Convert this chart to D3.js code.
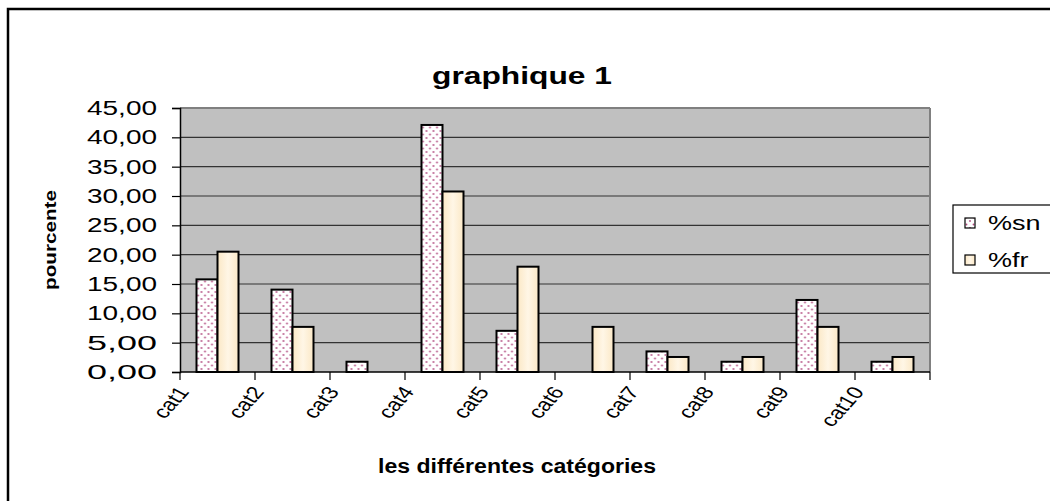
<!DOCTYPE html>
<html>
<head>
<meta charset="utf-8">
<script src="https://cdn.jsdelivr.net/npm/d3@7"></script>
<style>
  body { margin: 0; background: #fff; }
  svg { display: block; font-family: Arial, "Liberation Sans", sans-serif; }
</style>
</head>
<body>
<svg id="chart" width="1050" height="501"></svg>
<script>
// values (percentages)
const categories = ["cat1", "cat2", "cat3", "cat4", "cat5", "cat6", "cat7", "cat8", "cat9", "cat10"];
const seriesNames = ["%sn", "%fr"];
const sn = [15.79, 14.04, 1.75, 42.11, 7.02, 0, 3.51, 1.75, 12.28, 1.75];
const fr = [20.51, 7.69, 0, 30.77, 17.95, 7.69, 2.56, 2.56, 7.69, 2.56];
const yTicks = [0, 5, 10, 15, 20, 25, 30, 35, 40, 45];

const svg = d3.select("#chart");
const plot = { left: 180, right: 930, top: 108, bottom: 372 };

// the original text is drawn a bit wider than the font, stretch it
const widen = (sel, k) => sel.each(function() {
  const w = this.getComputedTextLength();
  d3.select(this).attr("textLength", w * k).attr("lengthAdjust", "spacingAndGlyphs");
});

// fills: dotted white for %sn, cream for %fr
const defs = svg.append("defs");
const pat = defs.append("pattern")
  .attr("id", "dots")
  .attr("patternUnits", "userSpaceOnUse")
  .attr("width", 7).attr("height", 7);
pat.append("rect").attr("width", 7).attr("height", 7).attr("fill", "#fff");
pat.append("circle").attr("cx", 1.5).attr("cy", 1.5).attr("r", 0.9).attr("fill", "#b0477e");
pat.append("circle").attr("cx", 5).attr("cy", 5).attr("r", 0.9).attr("fill", "#b0477e");

const grad = defs.append("linearGradient").attr("id", "cream")
  .attr("x1", "0%").attr("x2", "100%").attr("y1", "0%").attr("y2", "0%");
grad.append("stop").attr("offset", "0%").attr("stop-color", "#fbe8c6");
grad.append("stop").attr("offset", "50%").attr("stop-color", "#fff6e6");
grad.append("stop").attr("offset", "100%").attr("stop-color", "#fbe8c6");

const fills = ["url(#dots)", "url(#cream)"];

// outer frame (runs off the right and bottom edges)
svg.append("rect")
  .attr("x", 8).attr("y", 9)
  .attr("width", 1060).attr("height", 510)
  .attr("fill", "none").attr("stroke", "#000").attr("stroke-width", 2.5);

// scales
const x0 = d3.scaleBand().domain(categories).range([plot.left, plot.right]);
const x1 = d3.scaleBand().domain(seriesNames).range([0, 42]);
const y = d3.scaleLinear().domain([0, 45]).range([plot.bottom, plot.top]);

// plot background
svg.append("rect")
  .attr("x", plot.left).attr("y", plot.top)
  .attr("width", plot.right - plot.left).attr("height", plot.bottom - plot.top)
  .attr("fill", "#c0c0c0");

// gridlines
svg.append("g")
  .selectAll("line")
  .data(yTicks.filter(d => d > 0))
  .join("line")
  .attr("x1", plot.left).attr("x2", plot.right)
  .attr("y1", d => y(d)).attr("y2", d => y(d))
  .attr("stroke", d => d === 45 ? "#808080" : "#333")
  .attr("stroke-width", d => d === 45 ? 2 : 1.2);

// right border of plot
svg.append("line")
  .attr("x1", plot.right).attr("x2", plot.right)
  .attr("y1", plot.top).attr("y2", plot.bottom)
  .attr("stroke", "#808080").attr("stroke-width", 2);

// bars
const rows = categories.map((c, i) => ({ cat: c, vals: [sn[i], fr[i]] }));
const groups = svg.append("g")
  .selectAll("g")
  .data(rows)
  .join("g")
  .attr("transform", d => `translate(${x0(d.cat) + (x0.bandwidth() - 42) / 2},0)`);

groups.selectAll("rect")
  .data(d => d.vals.map((v, j) => ({ key: seriesNames[j], v: v, j: j })).filter(e => e.v > 0))
  .join("rect")
  .attr("x", d => x1(d.key))
  .attr("width", x1.bandwidth())
  .attr("y", d => y(d.v))
  .attr("height", d => y(0) - y(d.v))
  .attr("fill", d => fills[d.j])
  .attr("stroke", "#000")
  .attr("stroke-width", 2);

// y axis
const yAxis = d3.axisLeft(y)
  .tickValues(yTicks)
  .tickSize(8)
  .tickFormat(d => d3.format(".2f")(d).replace(".", ","));
const gy = svg.append("g")
  .attr("transform", `translate(${plot.left},0)`)
  .call(yAxis);
gy.select(".domain").attr("stroke", "#000").attr("stroke-width", 1.5);
gy.selectAll(".tick line").attr("stroke", "#000").attr("stroke-width", 1.2);
gy.selectAll(".tick text")
  .attr("x", -23)
  .attr("font-size", 20)
  .attr("fill", "#000")
  .attr("textLength", 70)
  .attr("lengthAdjust", "spacingAndGlyphs");

// x axis: ticks at category boundaries
const gx = svg.append("g")
  .attr("transform", `translate(0,${plot.bottom})`);
gx.append("line")
  .attr("x1", plot.left).attr("x2", plot.right)
  .attr("stroke", "#000").attr("stroke-width", 1.5);
gx.selectAll("line.tick")
  .data(categories.concat(["end"]))
  .join("line")
  .attr("class", "tick")
  .attr("x1", (d, i) => plot.left + i * x0.step())
  .attr("x2", (d, i) => plot.left + i * x0.step())
  .attr("y1", 0).attr("y2", 8)
  .attr("stroke", "#000").attr("stroke-width", 1.2);
// labels look rotated and then stretched sideways in the original
gx.selectAll("text")
  .data(categories)
  .join("text")
  .attr("transform", d => `translate(${x0(d) + 10},${20}) scale(1.3,1) rotate(-55)`)
  .attr("text-anchor", "end")
  .attr("font-size", 18)
  .attr("fill", "#000")
  .text(d => d);

// titles
svg.append("text")
  .attr("x", 522).attr("y", 84)
  .attr("text-anchor", "middle")
  .attr("font-size", 24).attr("font-weight", "bold")
  .attr("textLength", 180)
  .attr("lengthAdjust", "spacingAndGlyphs")
  .text("graphique 1");

svg.append("text")
  .attr("x", 517).attr("y", 473)
  .attr("text-anchor", "middle")
  .attr("font-size", 20).attr("font-weight", "bold")
  .attr("textLength", 278)
  .attr("lengthAdjust", "spacingAndGlyphs")
  .text("les différentes catégories");

svg.append("text")
  .attr("transform", "translate(56,240) rotate(-90)")
  .attr("text-anchor", "middle")
  .attr("font-size", 17).attr("font-weight", "bold")
  .attr("textLength", 100)
  .attr("lengthAdjust", "spacingAndGlyphs")
  .text("pourcente");

// legend
const lg = svg.append("g").attr("transform", "translate(953,205)");
lg.append("rect")
  .attr("width", 100).attr("height", 68)
  .attr("fill", "#fff").attr("stroke", "#000").attr("stroke-width", 1.2);
const items = lg.selectAll("g")
  .data(seriesNames)
  .join("g")
  .attr("transform", (d, i) => `translate(12,${18 + i * 37})`);
items.append("rect")
  .attr("x", 0).attr("y", -5)
  .attr("width", 10).attr("height", 10)
  .attr("fill", (d, i) => fills[i])
  .attr("stroke", "#000").attr("stroke-width", 1.2);
items.append("text")
  .attr("x", 23).attr("y", 0).attr("dy", "0.35em")
  .attr("font-size", 20)
  .text(d => d)
  .call(widen, 1.35);
</script>
</body>
</html>
